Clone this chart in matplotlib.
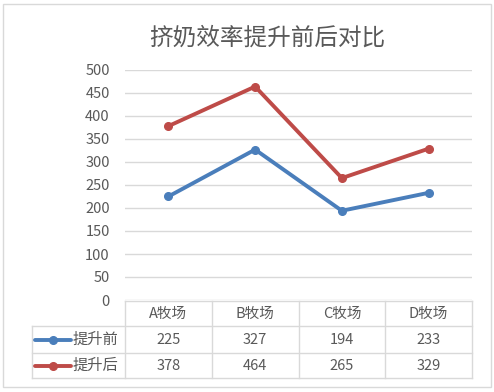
import matplotlib

matplotlib.use("Agg")
import matplotlib.pyplot as plt
from matplotlib.lines import Line2D
from matplotlib.patches import Rectangle

plt.rcParams["font.family"] = ["Noto Sans CJK SC", "DejaVu Sans"]

title = "挤奶效率提升前后对比"
categories = ["A牧场", "B牧场", "C牧场", "D牧场"]
series_names = ["提升前", "提升后"]
before = [225, 327, 194, 233]
after = [378, 464, 265, 329]
yticks = list(range(0, 501, 50))

colors = ["#4a7ebb", "#be4b48"]
text_color = "#595959"
line_color = "#d9d9d9"

W, H = 494, 392
fig = plt.figure(figsize=(W / 100, H / 100), dpi=100)

# pixel boxes taken from the reference layout
plot_left, plot_right, plot_top, plot_bottom = 125, 472, 70, 300
ax = fig.add_axes([plot_left / W, 1 - plot_bottom / H,
                   (plot_right - plot_left) / W, (plot_bottom - plot_top) / H])
x = list(range(len(categories)))
for values, color in zip([before, after], colors):
    ax.plot(x, values, color=color, linewidth=2.8, marker="o", markersize=5.5,
            solid_capstyle="round", zorder=3)
ax.set_xlim(-0.5, len(categories) - 0.5)
ax.set_ylim(0, 500)
ax.set_yticks(yticks)
ax.set_yticklabels([str(v) for v in yticks], fontsize=10.5, color=text_color)
ax.tick_params(axis="y", length=0, pad=11)
ax.set_xticks([])
ax.grid(axis="y", color=line_color, linewidth=1)
for side in ax.spines.values():
    side.set_visible(False)

# overlay in pixel coordinates for the title, data table and chart border
ov = fig.add_axes([0, 0, 1, 1])
ov.set_xlim(0, W)
ov.set_ylim(H, 0)
ov.axis("off")
ov.patch.set_alpha(0)

ov.add_patch(Rectangle((3, 4), 488, 383, fill=False, edgecolor=line_color, linewidth=1))
ov.text(267, 38, title, fontsize=17, color=text_color, ha="center", va="center")

tab_left, row_lines = 32, [301, 326, 353, 378]
col_lines = [plot_left + i * (plot_right - plot_left) / len(categories)
             for i in range(len(categories) + 1)]
ov.add_artist(Line2D([plot_left, plot_right], [row_lines[0]] * 2, color=line_color, lw=1))
for yl in row_lines[1:]:
    ov.add_artist(Line2D([tab_left, plot_right], [yl] * 2, color=line_color, lw=1))
ov.add_artist(Line2D([tab_left] * 2, [row_lines[1], row_lines[-1]], color=line_color, lw=1))
for xl in col_lines:
    ov.add_artist(Line2D([xl] * 2, [row_lines[0], row_lines[-1]], color=line_color, lw=1))

centers = [(col_lines[i] + col_lines[i + 1]) / 2 for i in range(len(categories))]
for cx, cat in zip(centers, categories):
    ov.text(cx, (row_lines[0] + row_lines[1]) / 2, cat, fontsize=10.5,
            color=text_color, ha="center", va="center")

for r, (name, values, color) in enumerate(zip(series_names, [before, after], colors)):
    cy = (row_lines[r + 1] + row_lines[r + 2]) / 2
    ov.add_artist(Line2D([35, 71], [cy, cy], color=color, lw=2.8,
                         solid_capstyle="round"))
    ov.add_artist(Line2D([53], [cy], color=color, marker="o", markersize=5.5))
    ov.text(73, cy, name, fontsize=11, color=text_color, ha="left", va="center")
    for cx, v in zip(centers, values):
        ov.text(cx, cy, str(v), fontsize=10.5, color=text_color, ha="center", va="center")

fig.savefig("out.png", dpi=100, facecolor="white")
